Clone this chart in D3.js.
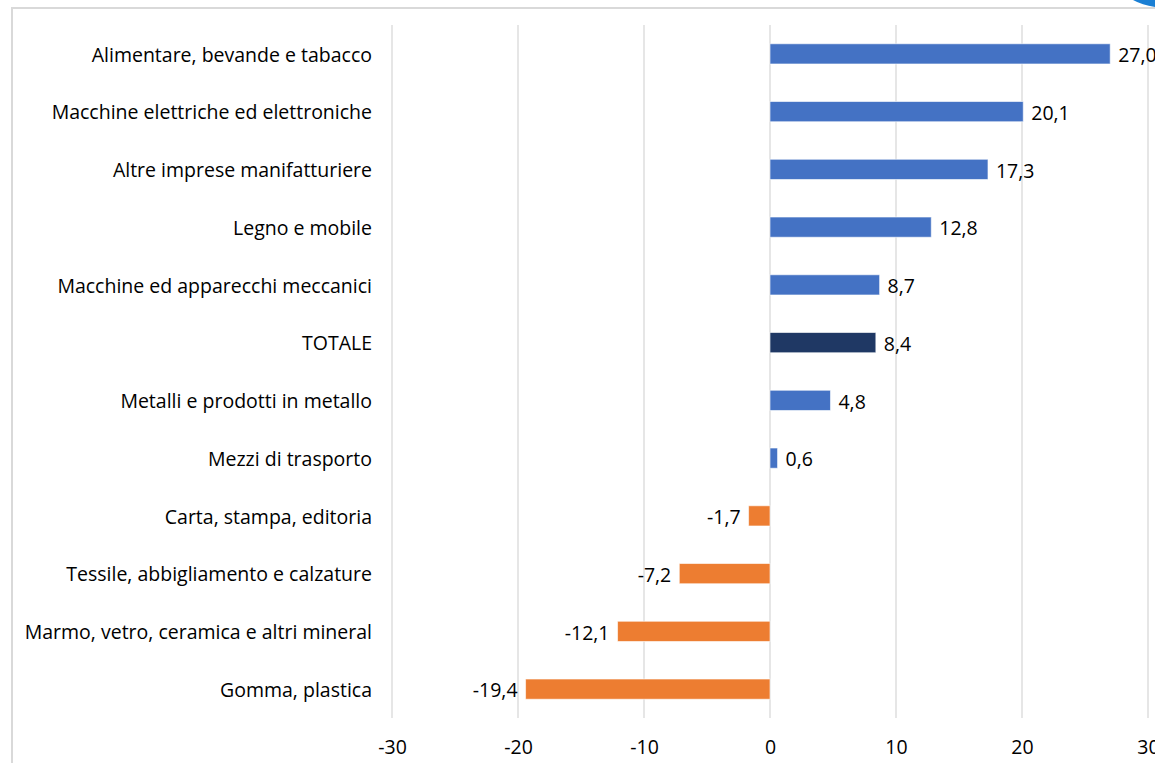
<!DOCTYPE html>
<html>
<head>
<meta charset="utf-8">
<script src="https://cdn.jsdelivr.net/npm/d3@7"></script>
<style>
  html, body { margin: 0; padding: 0; background: #fff; }
  svg { display: block; }
  text { font-family: "Open Sans", "Noto Sans", sans-serif; fill: #000; }
</style>
</head>
<body>
<svg id="chart" width="1155" height="763"></svg>
<script>
const categories = [
  "Alimentare, bevande e tabacco",
  "Macchine elettriche ed elettroniche",
  "Altre imprese manifatturiere",
  "Legno e mobile",
  "Macchine ed apparecchi meccanici",
  "TOTALE",
  "Metalli e prodotti in metallo",
  "Mezzi di trasporto",
  "Carta, stampa, editoria",
  "Tessile, abbigliamento e calzature",
  "Marmo, vetro, ceramica e altri mineral",
  "Gomma, plastica"
];
const values = [27.0, 20.1, 17.3, 12.8, 8.7, 8.4, 4.8, 0.6, -1.7, -7.2, -12.1, -19.4];
const tickValues = [-30, -20, -10, 0, 10, 20, 30];

const svg = d3.select("#chart");
const FS = 19.5;

// frame
svg.append("path")
  .attr("d", "M12,763 L12,8 L1155,8")
  .attr("fill", "none").attr("stroke", "#d9d9d9").attr("stroke-width", 2);
// blue corner
svg.append("path")
  .attr("d", "M1133,0 L1155,0 L1155,7 Q1142,5 1133,0 Z")
  .attr("fill", "#1a7fd4");

const x = d3.scaleLinear().domain([-30, 30]).range([392, 1148]);
const y = d3.scaleBand().domain(categories).range([25, 718]).paddingInner(0.65).paddingOuter(0.325);

// gridlines
svg.append("g").selectAll("line").data(tickValues).join("line")
  .attr("x1", d => x(d)).attr("x2", d => x(d))
  .attr("y1", 25).attr("y2", 718)
  .attr("stroke", "#d9d9d9").attr("stroke-width", 1.3);

// x axis labels
const xAxis = d3.axisBottom(x).tickValues(tickValues).tickSize(0).tickPadding(0)
  .tickFormat(d => String(d));
const gx = svg.append("g").attr("transform", "translate(0,747)").call(xAxis);
gx.select(".domain").remove();
gx.selectAll("text").attr("font-size", FS).attr("dy", "0.36em")
  .style("font-family", "'Open Sans', sans-serif").attr("fill", "#000");

// y labels
const yAxis = d3.axisLeft(y).tickSize(0).tickPadding(0);
const gy = svg.append("g").attr("transform", "translate(372,0)").call(yAxis);
gy.select(".domain").remove();
gy.selectAll("text").attr("font-size", FS).attr("dy", "0.4em")
  .style("font-family", "'Open Sans', sans-serif").attr("fill", "#000");

function color(d, i) {
  if (categories[i] === "TOTALE") return "#1f3864";
  return d >= 0 ? "#4472c4" : "#ed7d31";
}

svg.append("g").selectAll("rect").data(values).join("rect")
  .attr("x", d => x(Math.min(0, d)))
  .attr("width", d => Math.abs(x(d) - x(0)))
  .attr("y", (d, i) => y(categories[i]))
  .attr("height", y.bandwidth())
  .attr("fill", (d, i) => color(d, i))
  .attr("stroke", "#ffffff").attr("stroke-opacity", 0.6).attr("stroke-width", 1);

const fmt = v => v.toFixed(1).replace(".", ",");
svg.append("g").selectAll("text").data(values).join("text")
  .attr("x", d => d >= 0 ? x(d) + 8 : x(d) - 8)
  .attr("y", (d, i) => y(categories[i]) + y.bandwidth() / 2)
  .attr("dy", "0.42em")
  .attr("text-anchor", d => d >= 0 ? "start" : "end")
  .attr("font-size", FS)
  .text(d => fmt(d));
</script>
</body>
</html>
